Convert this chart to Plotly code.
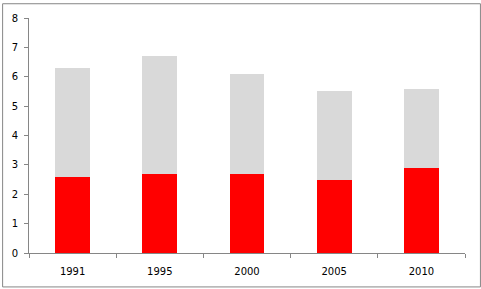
import plotly.graph_objects as go

years = ["1991", "1995", "2000", "2005", "2010"]
red_values = [2.6, 2.7, 2.7, 2.5, 2.9]
gray_values = [3.7, 4.0, 3.4, 3.0, 2.7]

W, H = 481, 289
ml, mr, mt, mb = 27, 16, 15, 35
pw, ph = W - ml - mr, H - mt - mb

fig = go.Figure()
fig.add_bar(x=years, y=red_values, marker=dict(color="#FF0000", line=dict(width=0)), width=0.4)
fig.add_bar(x=years, y=gray_values, marker=dict(color="#D9D9D9", line=dict(width=0)), width=0.4)

axis_color = "#868686"
fig.update_layout(
    barmode="stack",
    width=W, height=H,
    margin=dict(l=ml, r=mr, t=mt, b=mb, pad=0),
    plot_bgcolor="white", paper_bgcolor="white",
    showlegend=False,
    font=dict(family="DejaVu Sans", size=10, color="black"),
    xaxis=dict(type="category", showline=True, linecolor=axis_color, linewidth=1,
               ticks="outside", tickson="boundaries", ticklen=4, tickcolor=axis_color,
               showgrid=False, tickfont=dict(size=10), ticklabelstandoff=9),
    yaxis=dict(range=[0, 8], dtick=1, showline=True, linecolor=axis_color, linewidth=1,
               ticks="outside", ticklen=4, tickcolor=axis_color, showgrid=False,
               zeroline=False, tickfont=dict(size=10), ticklabelstandoff=4),
)
fig.add_shape(type="rect", xref="paper", yref="paper",
              x0=(-ml + 0.5) / pw, x1=(pw + mr - 0.5) / pw,
              y0=(-mb + 0.5) / ph, y1=(ph + mt - 0.5) / ph,
              line=dict(color=axis_color, width=1), fillcolor="rgba(0,0,0,0)", layer="above")
fig.write_html("out.html")
